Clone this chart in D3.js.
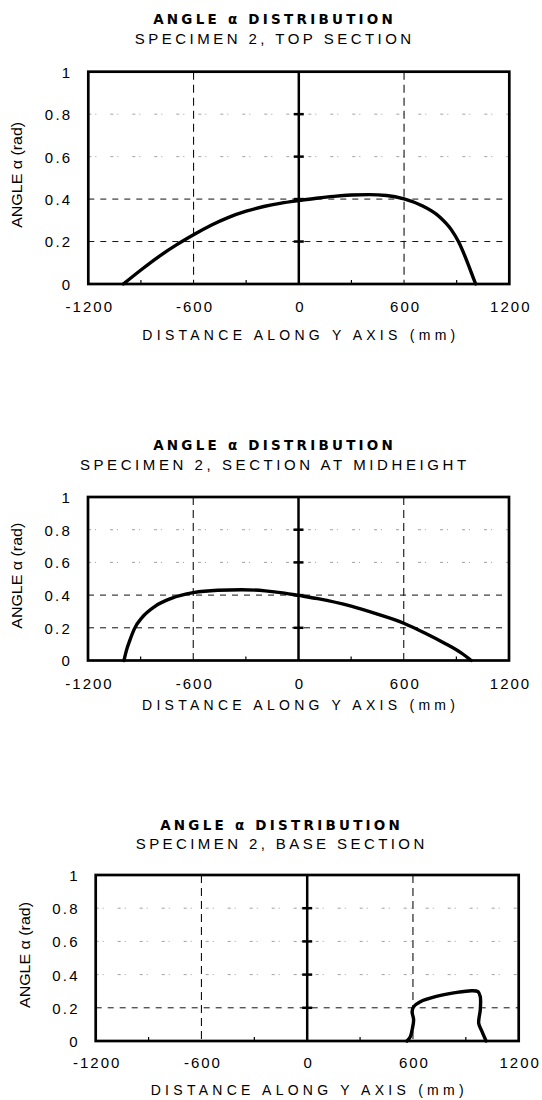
<!DOCTYPE html>
<html>
<head>
<meta charset="utf-8">
<script src="https://cdn.jsdelivr.net/npm/d3@7"></script>
<style>
  body { margin: 0; background: #fff; }
  text { font-family: "Liberation Sans", Arial, sans-serif; fill: #000; }
</style>
</head>
<body>
<div id="chart"></div>
<script>

// ---------------------------------------------------------------------------
// data
//

var xTicks = [-1200, -600, 0, 600, 1200],
    yTicks = [0, 0.2, 0.4, 0.6, 0.8, 1],
    minorX = [-900, -300, 300, 900];

var mainTitle = "ANGLE \u03b1 DISTRIBUTION",
    subTitles = ["SPECIMEN 2, TOP SECTION",
                 "SPECIMEN 2, SECTION AT MIDHEIGHT",
                 "SPECIMEN 2, BASE SECTION"],
    xTitle = "DISTANCE ALONG Y AXIS (mm)",
    yTitle = "ANGLE \u03b1 (rad)";

// top section
var topY     = [-1000, -900, -800, -700, -600, -500, -400, -300, -200, -100, 0, 100,
                200, 300, 400, 500, 600, 700, 800, 870, 910, 955, 985, 1008],
    topAlpha = [0, 0.066, 0.128, 0.183, 0.232, 0.277, 0.314, 0.343, 0.365, 0.381, 0.393, 0.404,
                0.413, 0.419, 0.421, 0.417, 0.401, 0.37, 0.318, 0.255, 0.2, 0.115, 0.05, 0];

// section at midheight
var midY     = [-995, -980, -960, -935, -890, -820, -725, -600, -460, -325, -190, -80,
                0, 110, 300, 450, 600, 720, 830, 925, 985],
    midAlpha = [0, 0.065, 0.128, 0.195, 0.265, 0.33, 0.38, 0.415, 0.43, 0.433, 0.426, 0.412,
                0.398, 0.378, 0.332, 0.283, 0.228, 0.168, 0.107, 0.048, 0];

// base section
var baseY     = [566, 585, 595, 604, 595, 604, 642, 727, 840, 935, 969, 982, 982, 973, 992, 1015],
    baseAlpha = [0, 0.026, 0.066, 0.127, 0.177, 0.207, 0.237, 0.267, 0.291, 0.303, 0.297, 0.267,
                 0.187, 0.107, 0.056, 0];

// gridlines drawn as clear dashes (others are faint dots)
var strongGrid = [[0.2, 0.4], [0.2, 0.4], [0.2]];

// ---------------------------------------------------------------------------
// layout
//

var outerWidth = 542,
    outerHeight = 1100;

var layouts = [
  {left: 88.3, right: 509.3, top: 71.7, bottom: 284, curve: d3.curveMonotoneX,
   titleX: 273, titleY: 19, subY: 39, tickY: 306.7, xTitleY: 335, yTitleX: 17},
  {left: 88, right: 509, top: 497, bottom: 660.5, curve: d3.curveMonotoneX,
   titleX: 273, titleY: 445, subY: 465, tickY: 683.3, xTitleY: 705, yTitleX: 17},
  {left: 95.7, right: 518.7, top: 875, bottom: 1041, curve: d3.curveCatmullRom.alpha(0.5),
   titleX: 280, titleY: 825, subY: 844, tickY: 1062.7, xTitleY: 1090, yTitleX: 25}
];

var pitch = 12.2; // spaced-out lettering, px per character

var svg = d3.select("#chart").append("svg")
    .attr("width", outerWidth)
    .attr("height", outerHeight)
    .style("display", "block");

svg.append("rect")
    .attr("width", outerWidth)
    .attr("height", outerHeight)
    .attr("fill", "#fff");

function spaced(sel, str) {
  sel.text(str)
    .attr("textLength", pitch * (str.length - 0.35))
    .attr("lengthAdjust", "spacing");
}

function drawChart(i, xs, ys) {
  var L = layouts[i];

  var x = d3.scaleLinear().domain([-1200, 1200]).range([L.left, L.right]),
      y = d3.scaleLinear().domain([0, 1]).range([L.bottom, L.top]);

  var g = svg.append("g").attr("class", "panel");

  // titles
  g.append("text")
      .attr("x", L.titleX).attr("y", L.titleY)
      .attr("dy", "0.36em")
      .attr("text-anchor", "middle")
      .style("font-family", "'DejaVu Sans', sans-serif")
      .style("font-size", "13.5px")
      .style("font-weight", "bold")
      .call(spaced, mainTitle);

  g.append("text")
      .attr("x", L.titleX).attr("y", L.subY)
      .attr("dy", "0.36em")
      .attr("text-anchor", "middle")
      .style("font-size", "15px")
      .call(spaced, subTitles[i]);

  // horizontal gridlines
  var grid = yTicks.filter(function(d) { return d > 0 && d < 1; });
  g.selectAll(".hgrid")
      .data(grid)
    .enter().append("line")
      .attr("class", "hgrid")
      .attr("x1", L.left).attr("x2", L.right)
      .attr("y1", y).attr("y2", y)
      .attr("stroke", function(d) { return strongGrid[i].indexOf(d) >= 0 ? "#111" : "#888"; })
      .attr("stroke-width", function(d) { return strongGrid[i].indexOf(d) >= 0 ? 1 : 0.8; })
      .attr("stroke-dasharray", function(d) { return strongGrid[i].indexOf(d) >= 0 ? "6,6" : "3,4,1,14"; });

  // vertical gridlines
  g.selectAll(".vgrid")
      .data([-600, 600])
    .enter().append("line")
      .attr("class", "vgrid")
      .attr("x1", x).attr("x2", x)
      .attr("y1", L.top).attr("y2", L.bottom)
      .attr("stroke", "#111")
      .attr("stroke-width", 1.1)
      .attr("stroke-dasharray", "8,5");

  // zero line with its crossing ticks
  g.append("line")
      .attr("x1", x(0)).attr("x2", x(0))
      .attr("y1", L.top).attr("y2", L.bottom)
      .attr("stroke", "#000")
      .attr("stroke-width", 2.5);

  g.selectAll(".cross")
      .data(grid)
    .enter().append("line")
      .attr("class", "cross")
      .attr("x1", x(0) - 5).attr("x2", x(0) + 5)
      .attr("y1", y).attr("y2", y)
      .attr("stroke", "#000")
      .attr("stroke-width", 2.5);

  // minor ticks along the base
  g.selectAll(".minor")
      .data(minorX)
    .enter().append("line")
      .attr("class", "minor")
      .attr("x1", x).attr("x2", x)
      .attr("y1", L.bottom).attr("y2", L.bottom - 4)
      .attr("stroke", "#000")
      .attr("stroke-width", 1.2);

  // curve
  var pts = xs.map(function(d, k) { return [d, ys[k]]; });
  var line = d3.line()
      .x(function(d) { return x(d[0]); })
      .y(function(d) { return y(d[1]); })
      .curve(L.curve);

  g.append("path")
      .datum(pts)
      .attr("d", line)
      .attr("fill", "none")
      .attr("stroke", "#000")
      .attr("stroke-width", 3.4)
      .attr("stroke-linejoin", "round")
      .attr("stroke-linecap", "round");

  // frame
  g.append("rect")
      .attr("x", L.left).attr("y", L.top)
      .attr("width", L.right - L.left)
      .attr("height", L.bottom - L.top)
      .attr("fill", "none")
      .attr("stroke", "#000")
      .attr("stroke-width", 2.7);

  // axes (labels only)
  var xAxis = g.append("g")
      .attr("transform", "translate(0," + L.bottom + ")")
      .call(d3.axisBottom(x).tickValues(xTicks).tickSize(0)
            .tickFormat(function(d) { return String(d); }));
  xAxis.select(".domain").remove();
  xAxis.selectAll("text")
      .attr("y", L.tickY - L.bottom)
      .attr("dy", "0.36em")
      .attr("dx", "1px")
      .attr("fill", "#000")
      .style("font-family", "'Liberation Sans', Arial, sans-serif")
      .style("font-size", "15px")
      .style("letter-spacing", "2px");

  var yAxis = g.append("g")
      .attr("transform", "translate(" + L.left + ",0)")
      .call(d3.axisLeft(y).tickValues(yTicks).tickSize(0).tickPadding(16)
            .tickFormat(function(d) { return String(d); }));
  yAxis.select(".domain").remove();
  yAxis.selectAll("text")
      .attr("dy", "0.36em")
      .attr("fill", "#000")
      .style("font-family", "'Liberation Sans', Arial, sans-serif")
      .style("font-size", "15px")
      .style("letter-spacing", "2.2px");

  // axis titles
  g.append("text")
      .attr("x", (L.left + L.right) / 2).attr("y", L.xTitleY)
      .attr("dy", "0.36em")
      .attr("text-anchor", "middle")
      .style("font-size", "14px")
      .call(spaced, xTitle);

  var yc = (L.top + L.bottom) / 2 - 3;
  g.append("text")
      .attr("transform", "translate(" + L.yTitleX + "," + yc + ") rotate(-90)")
      .attr("dy", "0.36em")
      .attr("text-anchor", "middle")
      .style("font-size", "14px")
      .attr("textLength", 106)
      .attr("lengthAdjust", "spacingAndGlyphs")
      .text(yTitle);
}

drawChart(0, topY, topAlpha);
drawChart(1, midY, midAlpha);
drawChart(2, baseY, baseAlpha);

</script>
</body>
</html>
